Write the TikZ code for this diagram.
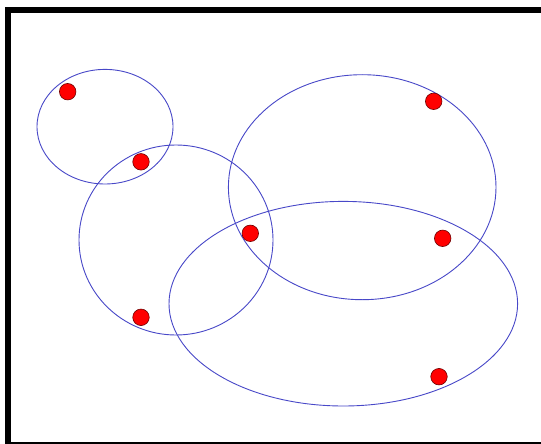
\documentclass[tikz,border=0pt]{standalone}
\definecolor{setblue}{RGB}{72,72,200}
\definecolor{dotred}{RGB}{255,0,0}
\definecolor{dotedge}{RGB}{110,0,0}
\tikzset{
  setline/.style={draw=setblue, line width=0.9pt},
  elem/.style={circle, fill=dotred, draw=dotedge, line width=0.6pt, minimum size=16.5pt, inner sep=0pt},
  frame/.style={fill=black, draw=none}
}
\begin{document}
\begin{tikzpicture}[x=1pt,y=-1pt]
\useasboundingbox (0,0) rectangle (541,444);
\fill[white] (0,0) rectangle (541,444);
% frame
\path[frame] (5,7) rectangle (11,444);
\path[frame] (5,7) rectangle (541,13);
\path[frame] (5,442) rectangle (541,444);
% sets
\draw[setline] (105,126.7) ellipse [x radius=68, y radius=57.3];
\draw[setline] (176,240) ellipse [x radius=97, y radius=95];
\draw[setline] (362.2,187.2) ellipse [x radius=133.8, y radius=112.5];
\draw[setline] (343.3,303.7) ellipse [x radius=174.3, y radius=102.3];
% elements
\node[elem] (p1) at (67.7,91.7) {};
\node[elem] (p2) at (141,161.8) {};
\node[elem] (p3) at (250.3,233.3) {};
\node[elem] (p4) at (141,317.3) {};
\node[elem] (p5) at (433.7,101.3) {};
\node[elem] (p6) at (442.7,238.3) {};
\node[elem] (p7) at (439,376.7) {};
\end{tikzpicture}
\end{document}
